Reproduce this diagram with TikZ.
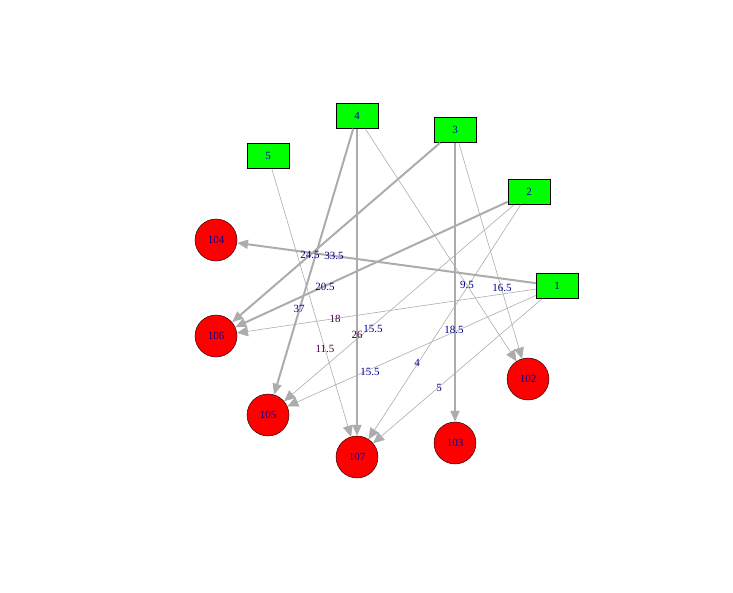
\documentclass[tikz,border=0pt]{standalone}
\usepackage{fontspec}
\setmainfont{Liberation Serif}
\usetikzlibrary{arrows.meta}
\begin{document}
\begin{tikzpicture}[x=1pt,y=-1pt,
 sq/.style={draw=black,fill=green,minimum width=42pt,minimum height=25pt,inner sep=0pt,text=blue!60!black,font=\fontsize{11}{11}\selectfont},
 ci/.style={circle,draw=black,fill=red,minimum size=42pt,inner sep=0pt,text=blue!60!black,font=\fontsize{11}{11}\selectfont},
 thin e/.style={draw=gray!65,line width=0.6pt,-{Triangle[length=11pt,width=10pt,open,fill=gray!65,line width=0.6pt]}},
 thick e/.style={draw=gray!65,line width=2pt,-{Triangle[length=11pt,width=9pt,fill=gray!65]}},
 lab/.style={text=blue!55!black,font=\fontsize{11}{11}\selectfont,inner sep=0pt},
 labp/.style={text=violet!50!black,font=\fontsize{11}{11}\selectfont,inner sep=0pt}]
\useasboundingbox (0,0) rectangle (733,592);
\node[sq] (n1) at (557,286) {1};
\node[sq] (n2) at (529,192) {2};
\node[sq] (n3) at (455,130) {3};
\node[sq] (n4) at (357,116) {4};
\node[sq] (n5) at (268,156) {5};
\node[ci] (n104) at (216,240) {104};
\node[ci] (n106) at (216,336) {106};
\node[ci] (n105) at (268,415) {105};
\node[ci] (n107) at (357,457) {107};
\node[ci] (n103) at (455,443) {103};
\node[ci] (n102) at (528,379) {102};
\draw[thick e] (n1) -- (n104);
\draw[thin e] (n1) -- (n106);
\draw[thin e] (n1) -- (n105);
\draw[thin e] (n1) -- (n107);
\draw[thick e] (n2) -- (n106);
\draw[thin e] (n2) -- (n105);
\draw[thin e] (n2) -- (n107);
\draw[thick e] (n3) -- (n106);
\draw[thick e] (n3) -- (n103);
\draw[thin e] (n3) -- (n102);
\draw[thick e] (n4) -- (n105);
\draw[thick e] (n4) -- (n107);
\draw[thin e] (n4) -- (n102);
\draw[thin e] (n5) -- (n107);
\node[lab] (l1) at (310,255) {24.5};
\node[lab] (l2) at (334,256) {33.5};
\node[lab] (l3) at (325,287) {20.5};
\node[lab] (l4) at (299,309) {37};
\node[labp] (l5) at (335,319) {18};
\node[labp] (l6) at (357,335) {26};
\node[lab] (l7) at (373,329) {15.5};
\node[labp] (l8) at (325,349) {11.5};
\node[lab] (l9) at (370,372) {15.5};
\node[lab] (l10) at (417,363) {4};
\node[lab] (l11) at (439,388) {5};
\node[lab] (l12) at (454,330) {18.5};
\node[lab] (l13) at (467,285) {9.5};
\node[lab] (l14) at (502,288) {16.5};
\end{tikzpicture}
\end{document}
